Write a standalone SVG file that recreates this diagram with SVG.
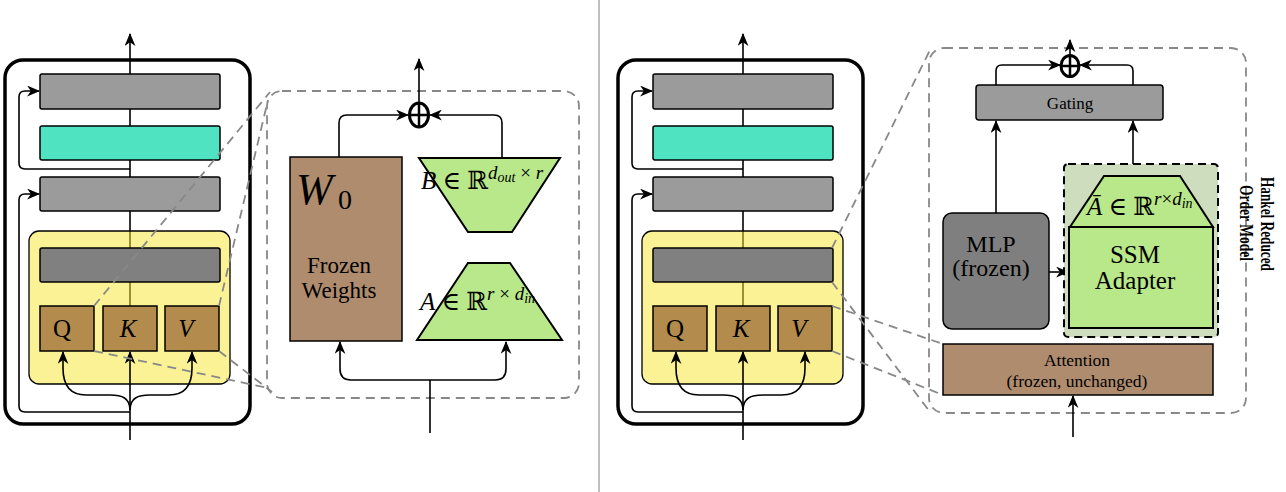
<svg xmlns="http://www.w3.org/2000/svg" width="1286" height="492" viewBox="0 0 1286 492">
<defs>
<marker id="ah" viewBox="0 0 12 10" refX="11" refY="5" markerWidth="13" markerHeight="11" markerUnits="userSpaceOnUse" orient="auto-start-reverse">
<path d="M0,0 L12,5 L0,10 L3.5,5 z" fill="#000"/>
</marker>
<style>
.ln{fill:none;stroke:#000;stroke-width:1.6}
.arr{fill:none;stroke:#000;stroke-width:1.6;marker-end:url(#ah)}
.outer{fill:#fff;stroke:#000;stroke-width:3.5}
.bar{fill:#9B9B9B;stroke:#000;stroke-width:1.5}
.teal{fill:#50E3C2;stroke:#000;stroke-width:1.5}
.dark{fill:#808080;stroke:#000;stroke-width:1.5}
.yel{fill:#F6E734;fill-opacity:0.52;stroke:#000;stroke-width:1.3}
.qkv{fill:#B28B4D;stroke:#000;stroke-width:1.5}
.brown{fill:#AF8C6E;stroke:#000;stroke-width:1.5}
.green{fill:#B9E88A;stroke:#000;stroke-width:2}
.zoomln{fill:none;stroke:#888;stroke-width:1.8;stroke-dasharray:9 6}
.dbox{fill:none;stroke:#888;stroke-width:1.8;stroke-dasharray:9 6}
.plus{fill:#fff;stroke:#000;stroke-width:3}
.serif{font-family:"Liberation Serif","DejaVu Serif",serif;fill:#000}
.it{font-style:italic}
</style>
</defs>

<!-- separator -->
<line x1="599" y1="0" x2="599" y2="492" stroke="#aaa" stroke-width="1.5"/>

<!-- LEFT transformer block -->
<g id="left-block">
<rect class="outer" x="5" y="60" width="245" height="364" rx="18"/>
</g>
<g id="left-connectors">
<path class="arr" d="M130,306 V34"/>
<path class="arr" d="M130,169 H25 Q19,169 19,163 V97 Q19,91 25,91 H39"/>
<path class="arr" d="M130,412 H25 Q19,412 19,406 V200 Q19,194 25,194 H39"/>
</g>
<g id="left-bar1"><rect class="bar" x="40" y="74" width="180" height="35" rx="2"/></g>
<g id="left-bar2"><rect class="teal" x="40" y="126" width="180" height="34" rx="2"/></g>
<g id="left-bar3"><rect class="bar" x="40" y="177" width="180" height="34" rx="2"/></g>
<g id="left-attn">
<rect class="yel" x="29" y="231" width="201" height="153" rx="10"/>
<rect class="dark" x="40" y="248" width="180" height="34" rx="2"/>
</g>
<g id="left-Q"><rect class="qkv" x="40" y="306" width="54" height="45"/><text class="serif" x="62" y="337" font-size="25" text-anchor="middle">Q</text></g>
<g id="left-K"><rect class="qkv" x="103" y="306" width="54" height="45"/><text class="serif it" x="128" y="337" font-size="25" text-anchor="middle">K</text></g>
<g id="left-V"><rect class="qkv" x="165" y="306" width="54" height="45"/><text class="serif it" x="186" y="337" font-size="25" text-anchor="middle">V</text></g>
<g id="left-inputs">
<path class="arr" d="M130,440 V352"/>
<path class="arr" d="M130,410 C130,398 122,395 110,395 L86,395 C70,395 63,386 63,368 V352"/>
<path class="arr" d="M130,410 C130,398 138,395 150,395 L169,395 C185,395 192,386 192,368 V352"/>
</g>

<!-- zoom lines left -->
<g id="left-zoom-lines">
<line class="zoomln" x1="94" y1="306" x2="270" y2="92"/>
<line class="zoomln" x1="219" y1="306" x2="268" y2="100"/>
<line class="zoomln" x1="94" y1="351" x2="268" y2="388"/>
<line class="zoomln" x1="219" y1="351" x2="272" y2="392"/>
</g>

<!-- LoRA detail -->
<g id="lora-box"><rect class="dbox" x="267" y="91" width="312" height="307" rx="15"/></g>
<g id="lora-connectors">
<path class="arr" d="M339,157 V123 Q339,115 347,115 H408"/>
<path class="arr" d="M502,158 V123 Q502,115 494,115 H430"/>
<path class="arr" d="M419,102 V59"/>
<path class="ln" d="M430,433 V380"/>
<path class="ln" d="M340,342 V369 Q340,380 351,380 H495 Q506,380 506,369 V342" marker-start="url(#ah)" marker-end="url(#ah)"/>
</g>
<g id="lora-plus">
<ellipse class="plus" cx="419" cy="115" rx="9.5" ry="12"/>
<line x1="419" y1="103" x2="419" y2="127" stroke="#000" stroke-width="2.5"/>
<line x1="409.5" y1="115" x2="428.5" y2="115" stroke="#000" stroke-width="2.5"/>
</g>
<g id="lora-W0">
<rect class="brown" x="290" y="157" width="112" height="184"/>
<text class="serif it" x="296" y="204" font-size="44">W</text>
<text class="serif" x="338" y="209" font-size="28">0</text>
<text class="serif" x="339" y="273" font-size="23" text-anchor="middle">Frozen</text>
<text class="serif" x="339" y="298" font-size="23" text-anchor="middle">Weights</text>
</g>
<g id="lora-B">
<polygon class="green" points="419,158 560,158 512,232 468,232"/>
<text class="serif" x="421" y="189" font-size="25"><tspan class="it">B</tspan> ∈ ℝ<tspan class="it" font-size="19" dy="-10">d</tspan><tspan class="it" font-size="14" dy="3">out</tspan><tspan font-size="19" dy="-3"> × </tspan><tspan class="it" font-size="19">r</tspan></text>
</g>
<g id="lora-A">
<polygon class="green" points="468,263 510,263 562,340 417,340"/>
<text class="serif" x="420" y="310" font-size="25"><tspan class="it">A</tspan> ∈ ℝ<tspan class="it" font-size="19" dy="-10">r</tspan><tspan font-size="19"> × </tspan><tspan class="it" font-size="19">d</tspan><tspan class="it" font-size="14" dy="3">in</tspan></text>
</g>

<!-- RIGHT transformer block -->
<g transform="translate(613,0)">
<g id="right-block"><rect class="outer" x="5" y="60" width="245" height="364" rx="18"/></g>
<g id="right-connectors">
<path class="arr" d="M130,306 V34"/>
<path class="arr" d="M130,169 H25 Q19,169 19,163 V97 Q19,91 25,91 H39"/>
<path class="arr" d="M130,412 H25 Q19,412 19,406 V200 Q19,194 25,194 H39"/>
</g>
<g id="right-bar1"><rect class="bar" x="40" y="74" width="180" height="35" rx="2"/></g>
<g id="right-bar2"><rect class="teal" x="40" y="126" width="180" height="34" rx="2"/></g>
<g id="right-bar3"><rect class="bar" x="40" y="177" width="180" height="34" rx="2"/></g>
<g id="right-attn">
<rect class="yel" x="29" y="231" width="201" height="153" rx="10"/>
<rect class="dark" x="40" y="248" width="180" height="34" rx="2"/>
</g>
<g id="right-Q"><rect class="qkv" x="40" y="306" width="54" height="45"/><text class="serif" x="62" y="337" font-size="25" text-anchor="middle">Q</text></g>
<g id="right-K"><rect class="qkv" x="103" y="306" width="54" height="45"/><text class="serif it" x="128" y="337" font-size="25" text-anchor="middle">K</text></g>
<g id="right-V"><rect class="qkv" x="165" y="306" width="54" height="45"/><text class="serif it" x="186" y="337" font-size="25" text-anchor="middle">V</text></g>
<g id="right-inputs">
<path class="arr" d="M130,440 V352"/>
<path class="arr" d="M130,410 C130,398 122,395 110,395 L86,395 C70,395 63,386 63,368 V352"/>
<path class="arr" d="M130,410 C130,398 138,395 150,395 L169,395 C185,395 192,386 192,368 V352"/>
</g>
</g>

<!-- zoom lines right -->
<g id="right-zoom-lines">
<line class="zoomln" x1="832" y1="248" x2="930" y2="50"/>
<line class="zoomln" x1="832" y1="282" x2="930" y2="412"/>
<line class="zoomln" x1="832" y1="306" x2="943" y2="344"/>
<line class="zoomln" x1="832" y1="351" x2="943" y2="395"/>
</g>

<!-- Adapter detail -->
<g id="adapter-box"><rect class="dbox" x="929" y="48" width="317" height="365" rx="15"/></g>
<g id="adapter-connectors">
<path class="arr" d="M996,85 V71 Q996,65 1002,65 H1060"/>
<path class="arr" d="M1133,85 V71 Q1133,65 1127,65 H1080"/>
<path class="arr" d="M1070,55 V40"/>
<path class="arr" d="M996,213 V121"/>
<path class="arr" d="M1133,164 V121"/>
<path class="arr" d="M1049,272 H1068"/>
<path class="arr" d="M1073,437 V396"/>
</g>
<g id="adapter-plus">
<ellipse class="plus" cx="1070" cy="66" rx="9" ry="10.5"/>
<line x1="1070" y1="55.5" x2="1070" y2="76.5" stroke="#000" stroke-width="2.5"/>
<line x1="1061" y1="66" x2="1079" y2="66" stroke="#000" stroke-width="2.5"/>
</g>
<g id="gating">
<rect class="bar" x="976" y="85" width="187" height="35" rx="3"/>
<text class="serif" x="1070" y="109" font-size="17" text-anchor="middle">Gating</text>
</g>
<g id="mlp">
<rect x="943" y="213" width="106" height="116" rx="9" fill="#7F7F7F" stroke="#000" stroke-width="1.5"/>
<text class="serif" x="991" y="252" font-size="24" text-anchor="middle">MLP</text>
<text class="serif" x="991" y="276" font-size="24" text-anchor="middle">(frozen)</text>
</g>
<g id="ssm">
<rect x="1064" y="164" width="154" height="173" rx="4" fill="#CEDDBD" stroke="#000" stroke-width="2" stroke-dasharray="8 5"/>
<polygon class="green" points="1104,176 1180,176 1213,227 1070,227"/>
<rect class="green" x="1069" y="227" width="144" height="101"/>
<text class="serif" x="1087" y="215" font-size="25"><tspan class="it">Ā</tspan> ∈ ℝ<tspan class="it" font-size="19" dy="-10">r</tspan><tspan font-size="19">×</tspan><tspan class="it" font-size="19">d</tspan><tspan class="it" font-size="14" dy="3">in</tspan></text>
<text class="serif" x="1135" y="263" font-size="25" text-anchor="middle">SSM</text>
<text class="serif" x="1135" y="289" font-size="25" text-anchor="middle">Adapter</text>
</g>
<g id="attention">
<rect class="brown" x="943" y="344" width="270" height="51"/>
<text class="serif" x="1077" y="366" font-size="17.5" text-anchor="middle">Attention</text>
<text class="serif" x="1077" y="387" font-size="17.5" text-anchor="middle">(frozen, unchanged)</text>
</g>
<g id="hankel-label">
<text class="serif" font-size="18" font-weight="bold" text-anchor="middle" textLength="94" lengthAdjust="spacingAndGlyphs" transform="translate(1261,224) rotate(90)">Hankel Reduced</text>
<text class="serif" font-size="18" font-weight="bold" text-anchor="middle" textLength="76" lengthAdjust="spacingAndGlyphs" transform="translate(1240,223) rotate(90)">Order Model</text>
</g>
</svg>
